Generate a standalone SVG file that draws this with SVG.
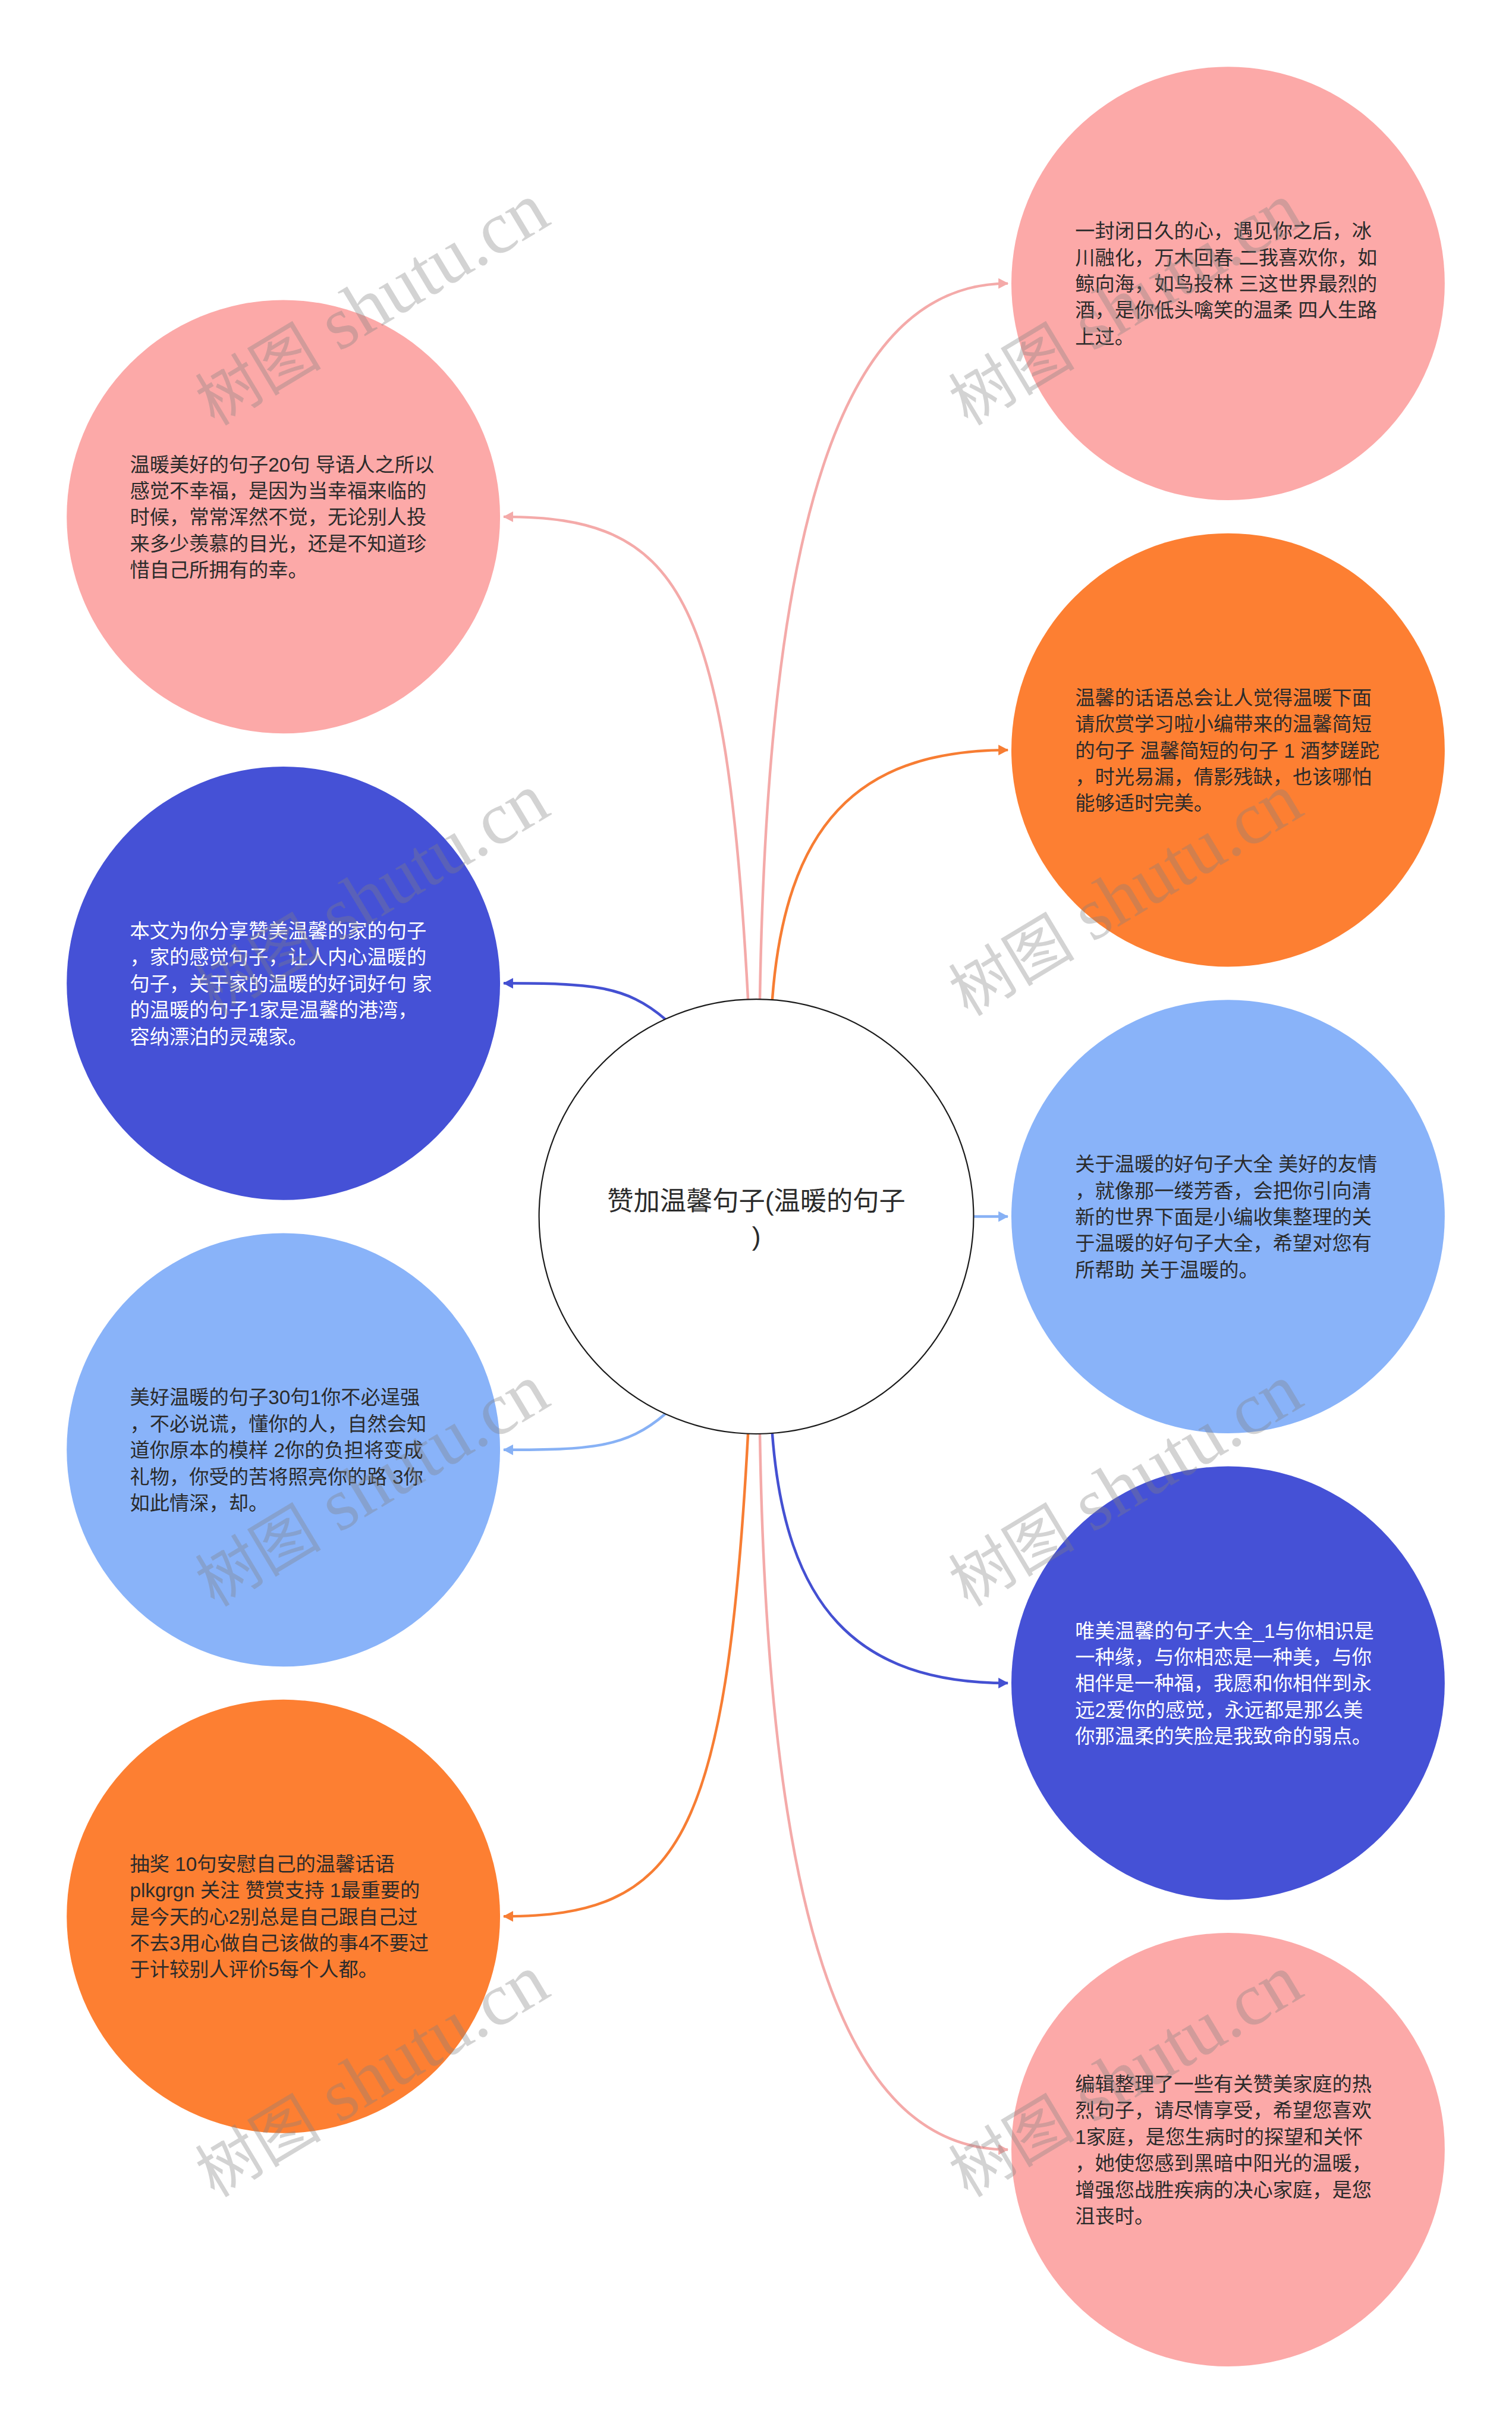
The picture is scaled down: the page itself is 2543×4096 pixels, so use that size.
<svg xmlns="http://www.w3.org/2000/svg" width="2543" height="4096" viewBox="0 0 2543 4096">
<style>
.t{font-family:"Liberation Sans","Noto Sans CJK SC",sans-serif;font-size:33.5px}
.d{fill:#2b2b2b}
.w{fill:#ffffff}
.ctr{font-family:"Liberation Sans","Noto Sans CJK SC",sans-serif;font-size:44.6px;fill:#2b2b2b;text-anchor:middle}
.pink{fill:#fca9a8}
.orange{fill:#fd7f32}
.lblue{fill:#89b3f9}
.dblue{fill:#4551d6}
.c{fill:none;stroke-width:4.5}
.wm{font-family:"Liberation Serif","Noto Sans CJK SC",serif;font-size:126px;fill:#808080;fill-opacity:0.35;text-anchor:middle}
</style>
<defs>
<marker id="aPink" viewBox="0 0 17 18" markerWidth="17" markerHeight="18" refX="16" refY="9" orient="auto" markerUnits="userSpaceOnUse"><path d="M0,0 L17,9 L0,18 Z" fill="#f4aaa9"/></marker>
<marker id="aOrange" viewBox="0 0 17 18" markerWidth="17" markerHeight="18" refX="16" refY="9" orient="auto" markerUnits="userSpaceOnUse"><path d="M0,0 L17,9 L0,18 Z" fill="#f77d33"/></marker>
<marker id="aDblue" viewBox="0 0 17 18" markerWidth="17" markerHeight="18" refX="16" refY="9" orient="auto" markerUnits="userSpaceOnUse"><path d="M0,0 L17,9 L0,18 Z" fill="#4450d2"/></marker>
<marker id="aLblue" viewBox="0 0 17 18" markerWidth="17" markerHeight="18" refX="16" refY="9" orient="auto" markerUnits="userSpaceOnUse"><path d="M0,0 L17,9 L0,18 Z" fill="#87b1f5"/></marker>
</defs>
<rect x="0" y="0" width="2543" height="4096" fill="#ffffff"/>
<g transform="scale(0.993)">
<g id="connectors">
<path class="c" stroke="#f4aaa9" marker-end="url(#aPink)" d="M1267,1693 C1230,1000 1150,875 853,875"/>
<path class="c" stroke="#f4aaa9" marker-end="url(#aPink)" d="M1287,1693 C1300,900 1420,480 1707,480"/>
<path class="c" stroke="#f77d33" marker-end="url(#aOrange)" d="M1308,1693 C1330,1400 1450,1270 1707,1270"/>
<path class="c" stroke="#4450d2" marker-end="url(#aDblue)" d="M1127,1726 C1060,1668 1000,1665 853,1665"/>
<path class="c" stroke="#87b1f5" marker-end="url(#aLblue)" d="M1649,2060 L1707,2060"/>
<path class="c" stroke="#87b1f5" marker-end="url(#aLblue)" d="M1127,2394 C1060,2452 1000,2455 853,2455"/>
<path class="c" stroke="#4450d2" marker-end="url(#aDblue)" d="M1308,2427 C1330,2720 1450,2850 1707,2850"/>
<path class="c" stroke="#f77d33" marker-end="url(#aOrange)" d="M1267,2427 C1230,3120 1150,3245 853,3245"/>
<path class="c" stroke="#f4aaa9" marker-end="url(#aPink)" d="M1287,2427 C1300,3220 1420,3640 1707,3640"/>
</g>
<g id="node-center">
<circle cx="1281" cy="2060" r="368" fill="#ffffff" stroke="#1a1a1a" stroke-width="2.2"/>
<text class="ctr"><tspan x="1281" y="2049">赞加温馨句子(温暖的句子</tspan><tspan x="1281" y="2109">)</tspan></text>
</g>
<g id="node-r1">
<circle class="pink" cx="2080" cy="480" r="367"/>
<text class="t d"><tspan x="1821" y="403.1">一封闭日久的心，遇见你之后，冰</tspan><tspan x="1821" y="447.8">川融化，万木回春 二我喜欢你，如</tspan><tspan x="1821" y="492.5">鲸向海，如鸟投林 三这世界最烈的</tspan><tspan x="1821" y="537.2">酒，是你低头噙笑的温柔 四人生路</tspan><tspan x="1821" y="581.9">上过。</tspan></text>
</g>
<g id="node-l1">
<circle class="pink" cx="480" cy="875" r="367"/>
<text class="t d"><tspan x="220" y="798.1">温暖美好的句子20句 导语人之所以</tspan><tspan x="220" y="842.8">感觉不幸福，是因为当幸福来临的</tspan><tspan x="220" y="887.5">时候，常常浑然不觉，无论别人投</tspan><tspan x="220" y="932.2">来多少羡慕的目光，还是不知道珍</tspan><tspan x="220" y="976.9">惜自己所拥有的幸。</tspan></text>
</g>
<g id="node-r2">
<circle class="orange" cx="2080" cy="1270" r="367"/>
<text class="t d"><tspan x="1821" y="1193.1">温馨的话语总会让人觉得温暖下面</tspan><tspan x="1821" y="1237.8">请欣赏学习啦小编带来的温馨简短</tspan><tspan x="1821" y="1282.5">的句子 温馨简短的句子 1 酒梦蹉跎</tspan><tspan x="1821" y="1327.2">，时光易漏，倩影残缺，也该哪怕</tspan><tspan x="1821" y="1371.9">能够适时完美。</tspan></text>
</g>
<g id="node-l2">
<circle class="dblue" cx="480" cy="1665" r="367"/>
<text class="t w"><tspan x="220" y="1588.1">本文为你分享赞美温馨的家的句子</tspan><tspan x="220" y="1632.8">，家的感觉句子，让人内心温暖的</tspan><tspan x="220" y="1677.5">句子，关于家的温暖的好词好句 家</tspan><tspan x="220" y="1722.2">的温暖的句子1家是温馨的港湾，</tspan><tspan x="220" y="1766.9">容纳漂泊的灵魂家。</tspan></text>
</g>
<g id="node-r3">
<circle class="lblue" cx="2080" cy="2060" r="367"/>
<text class="t d"><tspan x="1821" y="1983.1">关于温暖的好句子大全 美好的友情</tspan><tspan x="1821" y="2027.8">，就像那一缕芳香，会把你引向清</tspan><tspan x="1821" y="2072.5">新的世界下面是小编收集整理的关</tspan><tspan x="1821" y="2117.2">于温暖的好句子大全，希望对您有</tspan><tspan x="1821" y="2161.9">所帮助 关于温暖的。</tspan></text>
</g>
<g id="node-l3">
<circle class="lblue" cx="480" cy="2455" r="367"/>
<text class="t d"><tspan x="220" y="2378.1">美好温暖的句子30句1你不必逞强</tspan><tspan x="220" y="2422.8">，不必说谎，懂你的人，自然会知</tspan><tspan x="220" y="2467.5">道你原本的模样 2你的负担将变成</tspan><tspan x="220" y="2512.2">礼物，你受的苦将照亮你的路 3你</tspan><tspan x="220" y="2556.9">如此情深，却。</tspan></text>
</g>
<g id="node-r4">
<circle class="dblue" cx="2080" cy="2850" r="367"/>
<text class="t w"><tspan x="1821" y="2773.1">唯美温馨的句子大全_1与你相识是</tspan><tspan x="1821" y="2817.8">一种缘，与你相恋是一种美，与你</tspan><tspan x="1821" y="2862.5">相伴是一种福，我愿和你相伴到永</tspan><tspan x="1821" y="2907.2">远2爱你的感觉，永远都是那么美</tspan><tspan x="1821" y="2951.9">你那温柔的笑脸是我致命的弱点。</tspan></text>
</g>
<g id="node-l4">
<circle class="orange" cx="480" cy="3245" r="367"/>
<text class="t d"><tspan x="220" y="3168.1">抽奖 10句安慰自己的温馨话语</tspan><tspan x="220" y="3212.8">plkgrgn 关注 赞赏支持 1最重要的</tspan><tspan x="220" y="3257.5">是今天的心2别总是自己跟自己过</tspan><tspan x="220" y="3302.2">不去3用心做自己该做的事4不要过</tspan><tspan x="220" y="3346.9">于计较别人评价5每个人都。</tspan></text>
</g>
<g id="node-r5">
<circle class="pink" cx="2080" cy="3640" r="367"/>
<text class="t d"><tspan x="1821" y="3540.75">编辑整理了一些有关赞美家庭的热</tspan><tspan x="1821" y="3585.45">烈句子，请尽情享受，希望您喜欢</tspan><tspan x="1821" y="3630.15">1家庭，是您生病时的探望和关怀</tspan><tspan x="1821" y="3674.85">，她使您感到黑暗中阳光的温暖，</tspan><tspan x="1821" y="3719.55">增强您战胜疾病的决心家庭，是您</tspan><tspan x="1821" y="3764.25">沮丧时。</tspan></text>
</g>
<g id="watermarks">
<text class="wm" transform="translate(650,550) rotate(-31)"><tspan font-size="107">树图</tspan> shutu.cn</text>
<text class="wm" transform="translate(1926,550) rotate(-31)"><tspan font-size="107">树图</tspan> shutu.cn</text>
<text class="wm" transform="translate(650,1550) rotate(-31)"><tspan font-size="107">树图</tspan> shutu.cn</text>
<text class="wm" transform="translate(1926,1550) rotate(-31)"><tspan font-size="107">树图</tspan> shutu.cn</text>
<text class="wm" transform="translate(650,2550) rotate(-31)"><tspan font-size="107">树图</tspan> shutu.cn</text>
<text class="wm" transform="translate(1926,2550) rotate(-31)"><tspan font-size="107">树图</tspan> shutu.cn</text>
<text class="wm" transform="translate(650,3550) rotate(-31)"><tspan font-size="107">树图</tspan> shutu.cn</text>
<text class="wm" transform="translate(1926,3550) rotate(-31)"><tspan font-size="107">树图</tspan> shutu.cn</text>
</g>
</g>
</svg>
